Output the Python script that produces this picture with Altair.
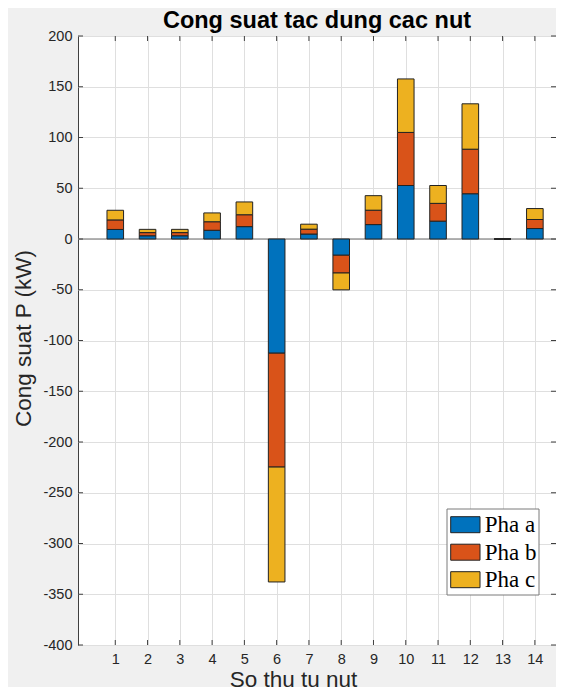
import altair as alt
import pandas as pd

nodes = list(range(1, 15))
pha_a = [9.4, 3.2, 3.2, 8.6, 12.2, -112.5, 4.9, -16.0, 14.2, 52.7, 17.6, 44.6, 0.0, 10.3]
pha_b = [9.4, 3.1, 3.1, 8.4, 11.7, -112.2, 4.8, -17.5, 14.2, 52.3, 17.5, 43.9, 0.0, 8.9]
pha_c = [9.5, 3.2, 3.2, 8.7, 12.6, -113.2, 4.9, -16.6, 14.3, 52.7, 17.6, 44.7, 0.0, 10.8]
phases = ["Pha a", "Pha b", "Pha c"]
colors = ["#0072BD", "#D95319", "#EDB120"]
y_ticks = list(range(-400, 201, 50))

rows = []
for i, n in enumerate(nodes):
    for k, (ph, vals) in enumerate(zip(phases, [pha_a, pha_b, pha_c])):
        rows.append({"node": n, "phase": ph, "k": k, "value": vals[i]})
df = pd.DataFrame(rows)
xt = pd.DataFrame({"v": nodes})
yt = pd.DataFrame({"v": y_ticks})

W, H = 478, 609
PAD = {"left": 70, "top": 28, "right": 0, "bottom": 42}
xscale = alt.Scale(domain=[0, 14.5], nice=False, zero=False)
yscale = alt.Scale(domain=[-400, 200], nice=False)
cscale = alt.Scale(domain=phases, range=colors)

font = "Liberation Sans"
tick_col = "#404040"

xaxis = alt.Axis(values=nodes, grid=True, gridColor="#DFDFDF", tickSize=0, domain=False,
                 labelFontSize=14.5, labelColor="#262626", labelFont=font, labelPadding=7,
                 labelOverlap=False,
                 title="So thu tu nut", titleFontSize=22.5, titleFont=font, titleFontWeight="normal",
                 titleColor="#262626", titleX=215, titleY=41, titleBaseline="alphabetic",
                 titleAlign="center", titleAnchor="start")
yaxis = alt.Axis(values=y_ticks, grid=True, gridColor="#DFDFDF", tickSize=0, domain=False,
                 labelFontSize=14.5, labelColor="#262626", labelFont=font, labelPadding=6,
                 labelOverlap=False, labelExpr="'' + datum.value",
                 title="Cong suat P (kW)", titleFontSize=22.5, titleFont=font, titleFontWeight="normal",
                 titleColor="#262626", titleX=-48, titleY=302, titleBaseline="alphabetic",
                 titleAlign="center", titleAnchor="start", titleAngle=270)

zero_line = alt.Chart(pd.DataFrame({"v": [0]})).mark_rule(color="#9a9a9a", strokeWidth=1.5).encode(
    y=alt.Y("v:Q", scale=yscale, axis=yaxis)
)

bars = alt.Chart(df).mark_bar(size=16.6, stroke="#222222", strokeWidth=1).encode(
    x=alt.X("node:Q", scale=xscale, axis=xaxis),
    y=alt.Y("value:Q", stack="zero", scale=yscale, axis=yaxis),
    color=alt.Color("phase:N", scale=cscale, legend=None),
    order=alt.Order("k:Q", sort="ascending"),
)

# inward tick marks on all four sides
left_ticks = alt.Chart(yt).mark_rule(color=tick_col, strokeWidth=1).encode(
    y=alt.Y("v:Q", scale=yscale, axis=yaxis), x=alt.value(0), x2=alt.value(5))
right_ticks = alt.Chart(yt).mark_rule(color=tick_col, strokeWidth=1).encode(
    y=alt.Y("v:Q", scale=yscale, axis=yaxis), x=alt.value(W - 5), x2=alt.value(W))
bottom_ticks = alt.Chart(xt).mark_rule(color=tick_col, strokeWidth=1).encode(
    x=alt.X("v:Q", scale=xscale, axis=xaxis), y=alt.value(H - 5), y2=alt.value(H))
top_ticks = alt.Chart(xt).mark_rule(color=tick_col, strokeWidth=1).encode(
    x=alt.X("v:Q", scale=xscale, axis=xaxis), y=alt.value(0), y2=alt.value(5))

# legend box (inside plot, lower right)
LX, LY = 369, 473
legend_layers = [
    alt.Chart(pd.DataFrame({"b": [0]})).mark_rect(fill="white", stroke="#7a7a7a", strokeWidth=1).encode(
        x=alt.value(LX), x2=alt.value(LX + 92), y=alt.value(LY), y2=alt.value(LY + 86))
]
for k, ph in enumerate(phases):
    one = pd.DataFrame({"phase": [ph]})
    top = LY + 7.7 + k * 27.5
    legend_layers.append(
        alt.Chart(one).mark_rect(stroke="#222222", strokeWidth=1).encode(
            x=alt.value(LX + 3.7), x2=alt.value(LX + 33), y=alt.value(top), y2=alt.value(top + 16),
            color=alt.Color("phase:N", scale=cscale, legend=None))
    )
    legend_layers.append(
        alt.Chart(one).mark_text(align="left", baseline="alphabetic", font="Liberation Serif",
                                 fontSize=23, color="black").encode(
            x=alt.value(LX + 37.7), y=alt.value(top + 15.6), text="phase:N")
    )

chart = alt.layer(zero_line, bars, left_ticks, right_ticks, bottom_ticks, top_ticks,
                  *legend_layers).properties(
    width=W, height=H,
    autosize=alt.AutoSizeParams(type="none"),
    padding=PAD,
    background="#F0F0F0",
    title=alt.TitleParams("Cong suat tac dung cac nut", font=font, fontSize=23.5, fontWeight="bold",
                          color="black", anchor="middle", offset=0, dy=4),
).configure_view(stroke="#404040", strokeWidth=1, fill="white")

chart.save("out.html", embed_options={"renderer": "svg", "actions": False})
